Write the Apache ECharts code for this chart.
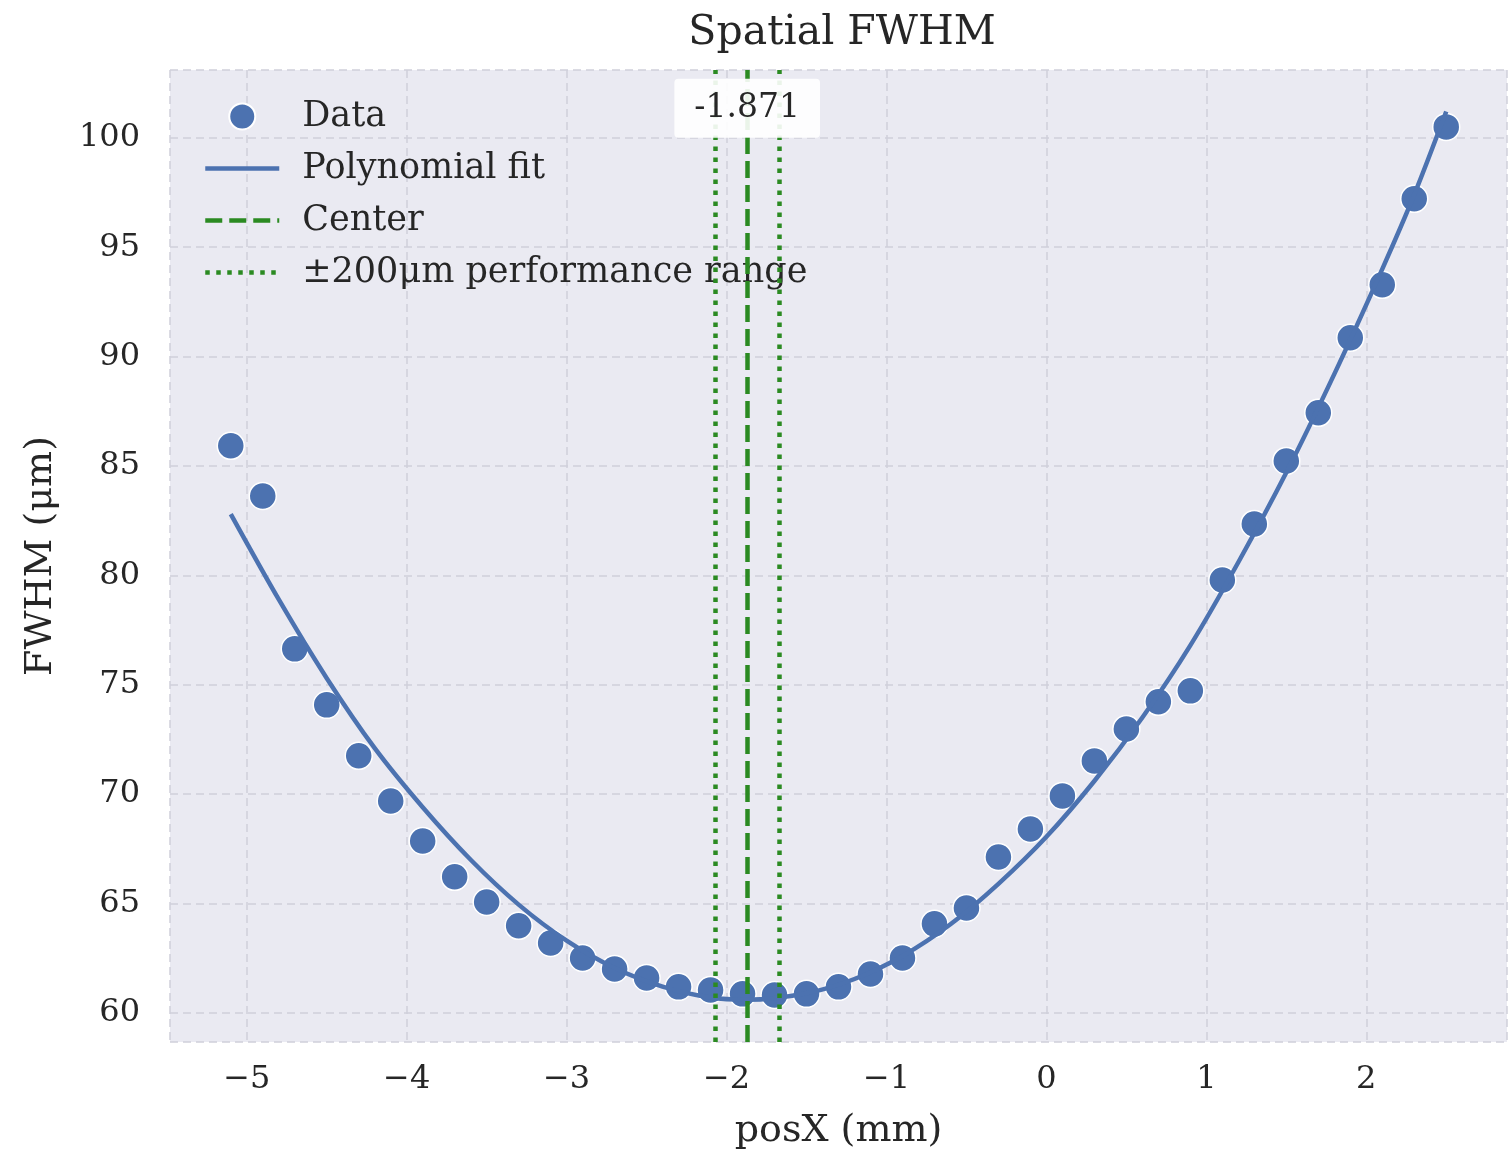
<!DOCTYPE html>
<html><head><meta charset="utf-8">
<script src="https://cdn.jsdelivr.net/npm/echarts@6/dist/echarts.min.js"></script>
<style>html,body{margin:0;padding:0;background:#fff}#c{width:1510px;height:1169px}</style>
</head><body><div id="c"></div>
<script>
const dataX = [-5.1,-4.9,-4.7,-4.5,-4.3,-4.1,-3.9,-3.7,-3.5,-3.3,-3.1,-2.9,-2.7,-2.5,-2.3,-2.1,-1.9,-1.7,-1.5,-1.3,-1.1,-0.9,-0.7,-0.5,-0.3,-0.1,0.1,0.3,0.5,0.7,0.9,1.1,1.3,1.5,1.7,1.9,2.1,2.3,2.5];
const dataY = [85.92,83.63,76.64,74.08,71.75,69.69,67.86,66.22,65.07,63.98,63.2,62.51,62.01,61.6,61.19,61.05,60.87,60.82,60.87,61.19,61.78,62.51,64.07,64.8,67.13,68.41,69.92,71.52,72.98,74.22,74.72,79.79,82.35,85.23,87.43,90.86,93.28,97.21,100.5];
const fitX = [-5.1,-4.8,-4.5,-4.2,-3.9,-3.6,-3.3,-3.0,-2.7,-2.4,-2.1,-1.871,-1.5,-1.2,-0.9,-0.6,-0.3,0,0.3,0.6,0.9,1.2,1.5,1.8,2.1,2.3,2.5];
const fitY = [82.8,78.9,75.3,72.1,69.4,67.0,64.95,63.3,62.05,61.2,60.7,60.6,60.9,61.55,62.6,64.05,65.9,68.05,70.6,73.5,76.8,80.6,84.7,89.2,94.0,97.4,101.2];
const center = -1.871;
const rangeHalf = 0.2;
const xTicks = [-5,-4,-3,-2,-1,0,1,2];
const yTicks = [60,65,70,75,80,85,90,95,100];

const F = 'DejaVu Serif';
const green = '#2b8a22';
const blue = '#4c72b0';
const chart = echarts.init(document.getElementById('c'), null, {renderer:'canvas'});
const fmt = (ticks) => (v) => {
  const t = ticks.find(k => Math.abs(k - v) < 1e-6);
  return t === undefined ? '' : String(t).replace('-', '\u2212');
};
const hideSym = {opacity:0};
chart.setOption({
  animation:false,
  backgroundColor:'#fff',
  title:{text:'Spatial FWHM', left:837, top:8, textAlign:'center',
    textStyle:{fontFamily:F, fontSize:41, fontWeight:'normal', color:'#262626'}},
  grid:{left:170, right:2, top:70, bottom:127, show:true, backgroundColor:'#eaeaf2', borderWidth:0},
  legend:{orient:'vertical', left:198, top:94, itemWidth:74, itemHeight:26, itemGap:17,
    textStyle:{fontFamily:F, fontSize:35, color:'#262626', padding:[0,0,0,18]},
    data:[{name:'Data', icon:'circle'},
      {name:'Polynomial fit', itemStyle:hideSym, lineStyle:{width:4.5, color:blue}},
      {name:'Center', itemStyle:hideSym, lineStyle:{width:4.5, color:green, type:[17,7]}},
      {name:'\u00b1200\u03bcm performance range', itemStyle:hideSym, lineStyle:{width:4.5, color:green, type:[4.5,6.5]}}]},
  xAxis:{type:'value', min:-5.48, max:2.88, splitNumber:8,
    name:'posX (mm)', nameLocation:'middle', nameGap:70,
    nameTextStyle:{fontFamily:F, fontSize:38, color:'#262626'},
    axisLine:{show:false}, axisTick:{show:false},
    axisLabel:{formatter:fmt(xTicks), fontFamily:F, fontSize:32, color:'#262626', margin:22},
    splitLine:{show:true, lineStyle:{color:'#cfcfda', width:1.5, type:[8,5]}}},
  yAxis:{type:'value', min:58.67, max:103.1, splitNumber:9,
    name:'FWHM (\u03bcm)', nameLocation:'middle', nameGap:110,
    nameTextStyle:{fontFamily:F, fontSize:38, color:'#262626'},
    axisLine:{show:false}, axisTick:{show:false},
    axisLabel:{formatter:fmt(yTicks), fontFamily:F, fontSize:32, color:'#262626', margin:30},
    splitLine:{show:true, lineStyle:{color:'#cfcfda', width:1.5, type:[8,5]}}},
  series:[
    {name:'Data', type:'scatter', z:2, symbolSize:27,
      itemStyle:{color:blue, opacity:1, borderColor:'#fff', borderWidth:1.5},
      data:dataX.map((x,i)=>[x,dataY[i]])},
    {name:'Polynomial fit', type:'line', z:3, smooth:0.3, showSymbol:false, symbol:'none',
      lineStyle:{color:blue, width:4.5}, itemStyle:{color:blue},
      data:fitX.map((x,i)=>[x,fitY[i]])},
    {name:'Center', type:'line', z:4, data:[], symbol:'none',
      lineStyle:{color:green, width:4.5, type:[17,7]}, itemStyle:{color:green},
      markLine:{silent:true, symbol:'none', label:{show:false},
        lineStyle:{color:green, width:4.5, type:[17,7]},
        data:[{xAxis:center}]},
      markPoint:{silent:true, symbol:'rect', symbolSize:0,
        label:{show:true, formatter:String(center), fontFamily:F, fontSize:33, color:'#262626',
          backgroundColor:'rgba(255,255,255,0.9)', padding:[13,20,13,20], borderRadius:4},
        data:[{coord:[center, 101.35]}]}},
    {name:'\u00b1200\u03bcm performance range', type:'line', z:4, data:[], symbol:'none',
      lineStyle:{color:green, width:4.5, type:[4.5,6.5]}, itemStyle:{color:green},
      markLine:{silent:true, symbol:'none', label:{show:false},
        lineStyle:{color:green, width:4.5, type:[4.5,6.5]},
        data:[{xAxis:center-rangeHalf},{xAxis:center+rangeHalf}]}}
  ]
});
</script></body></html>
